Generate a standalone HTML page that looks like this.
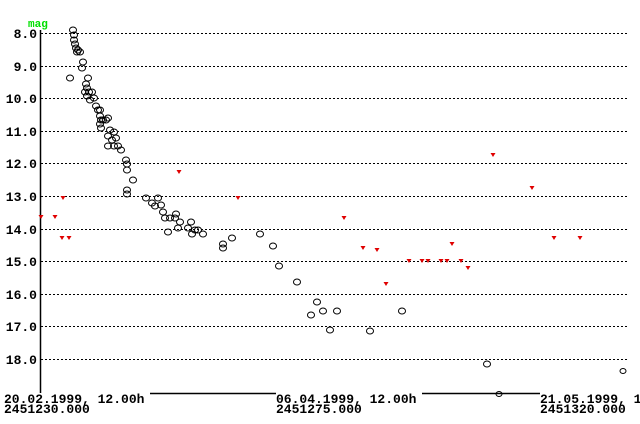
<!DOCTYPE html>
<html><head><style>
body{margin:0;background:#fff;}
svg{display:block;}
text{font-family:"Liberation Mono",monospace;font-weight:bold;font-size:13px;fill:#000;}
</style></head><body>
<svg width="640" height="424" viewBox="0 0 640 424" xmlns="http://www.w3.org/2000/svg">
<g stroke="#000" stroke-width="1" stroke-dasharray="2,2">
<line x1="41" y1="33.5" x2="628" y2="33.5"/>
<line x1="41" y1="66.5" x2="628" y2="66.5"/>
<line x1="41" y1="98.5" x2="628" y2="98.5"/>
<line x1="41" y1="131.5" x2="628" y2="131.5"/>
<line x1="41" y1="163.5" x2="628" y2="163.5"/>
<line x1="41" y1="196.5" x2="628" y2="196.5"/>
<line x1="41" y1="229.5" x2="628" y2="229.5"/>
<line x1="41" y1="261.5" x2="628" y2="261.5"/>
<line x1="41" y1="294.5" x2="628" y2="294.5"/>
<line x1="41" y1="326.5" x2="628" y2="326.5"/>
<line x1="41" y1="359.5" x2="628" y2="359.5"/>
</g>
<line x1="40.5" y1="30" x2="40.5" y2="393" stroke="#000" stroke-width="1.5"/>
<line x1="150" y1="393.5" x2="276" y2="393.5" stroke="#000" stroke-width="1.5"/>
<line x1="422" y1="393.5" x2="540" y2="393.5" stroke="#000" stroke-width="1.5"/>
<text x="28" y="27" style="fill:#00e000;font-size:11px">mag</text>
<g text-anchor="end">
<text x="37" y="38">8.0</text><text x="37" y="71">9.0</text><text x="37" y="103">10.0</text>
<text x="37" y="136">11.0</text><text x="37" y="168">12.0</text><text x="37" y="201">13.0</text>
<text x="37" y="234">14.0</text><text x="37" y="266">15.0</text><text x="37" y="299">16.0</text>
<text x="37" y="331">17.0</text><text x="37" y="364">18.0</text>
</g>
<text x="4" y="403">20.02.1999, 12.00h</text><text x="4" y="413">2451230.000</text>
<text x="276" y="403">06.04.1999, 12.00h</text><text x="276" y="413">2451275.000</text>
<text x="540" y="403">21.05.1999, 12.00h</text><text x="540" y="413">2451320.000</text>
<g fill="none" stroke="#000" stroke-width="1">
<ellipse cx="73" cy="30" rx="3.5" ry="3"/><ellipse cx="74" cy="35" rx="3.5" ry="3"/><ellipse cx="74" cy="40" rx="3.5" ry="3"/><ellipse cx="75" cy="44" rx="3.5" ry="3"/><ellipse cx="76" cy="48" rx="3.5" ry="3"/><ellipse cx="77" cy="52" rx="3.5" ry="3"/><ellipse cx="78" cy="50" rx="3.5" ry="3"/><ellipse cx="80" cy="52" rx="3.5" ry="3"/><ellipse cx="83" cy="62" rx="3.5" ry="3"/><ellipse cx="82" cy="68" rx="3.5" ry="3"/><ellipse cx="70" cy="78" rx="3.5" ry="3"/><ellipse cx="88" cy="78" rx="3.5" ry="3"/><ellipse cx="86" cy="84" rx="3.5" ry="3"/><ellipse cx="87" cy="88" rx="3.5" ry="3"/><ellipse cx="89" cy="92" rx="3.5" ry="3"/><ellipse cx="85" cy="92" rx="3.5" ry="3"/><ellipse cx="87" cy="96" rx="3.5" ry="3"/><ellipse cx="92" cy="92" rx="3.5" ry="3"/><ellipse cx="90" cy="100" rx="3.5" ry="3"/><ellipse cx="94" cy="98" rx="3.5" ry="3"/><ellipse cx="96" cy="106" rx="3.5" ry="3"/><ellipse cx="98" cy="110" rx="3.5" ry="3"/><ellipse cx="100" cy="110" rx="3.5" ry="3"/><ellipse cx="100" cy="116" rx="3.5" ry="3"/><ellipse cx="101" cy="120" rx="3.5" ry="3"/><ellipse cx="100" cy="124" rx="3.5" ry="3"/><ellipse cx="101" cy="128" rx="3.5" ry="3"/><ellipse cx="103" cy="120" rx="3.5" ry="3"/><ellipse cx="106" cy="120" rx="3.5" ry="3"/><ellipse cx="108" cy="118" rx="3.5" ry="3"/><ellipse cx="110" cy="130" rx="3.5" ry="3"/><ellipse cx="108" cy="136" rx="3.5" ry="3"/><ellipse cx="108" cy="146" rx="3.5" ry="3"/><ellipse cx="112" cy="140" rx="3.5" ry="3"/><ellipse cx="114" cy="132" rx="3.5" ry="3"/><ellipse cx="114" cy="146" rx="3.5" ry="3"/><ellipse cx="116" cy="138" rx="3.5" ry="3"/><ellipse cx="118" cy="146" rx="3.5" ry="3"/><ellipse cx="121" cy="150" rx="3.5" ry="3"/><ellipse cx="126" cy="160" rx="3.5" ry="3"/><ellipse cx="127" cy="164" rx="3.5" ry="3"/><ellipse cx="127" cy="170" rx="3.5" ry="3"/><ellipse cx="127" cy="190" rx="3.5" ry="3"/><ellipse cx="127" cy="194" rx="3.5" ry="3"/><ellipse cx="133" cy="180" rx="3.5" ry="3"/><ellipse cx="146" cy="198" rx="3.5" ry="3"/><ellipse cx="152" cy="203" rx="3.5" ry="3"/><ellipse cx="155" cy="206" rx="3.5" ry="3"/><ellipse cx="158" cy="198" rx="3.5" ry="3"/><ellipse cx="161" cy="205" rx="3.5" ry="3"/><ellipse cx="163" cy="212" rx="3.5" ry="3"/><ellipse cx="165" cy="218" rx="3.5" ry="3"/><ellipse cx="168" cy="232" rx="3.5" ry="3"/><ellipse cx="170" cy="218" rx="3.5" ry="3"/><ellipse cx="175" cy="218" rx="3.5" ry="3"/><ellipse cx="176" cy="214" rx="3.5" ry="3"/><ellipse cx="178" cy="228" rx="3.5" ry="3"/><ellipse cx="180" cy="222" rx="3.5" ry="3"/><ellipse cx="188" cy="228" rx="3.5" ry="3"/><ellipse cx="191" cy="222" rx="3.5" ry="3"/><ellipse cx="192" cy="234" rx="3.5" ry="3"/><ellipse cx="195" cy="230" rx="3.5" ry="3"/><ellipse cx="198" cy="230" rx="3.5" ry="3"/><ellipse cx="203" cy="234" rx="3.5" ry="3"/><ellipse cx="223" cy="244" rx="3.5" ry="3"/><ellipse cx="223" cy="248" rx="3.5" ry="3"/><ellipse cx="232" cy="238" rx="3.5" ry="3"/><ellipse cx="260" cy="234" rx="3.5" ry="3"/><ellipse cx="273" cy="246" rx="3.5" ry="3"/><ellipse cx="279" cy="266" rx="3.5" ry="3"/><ellipse cx="297" cy="282" rx="3.5" ry="3"/><ellipse cx="311" cy="315" rx="3.5" ry="3"/><ellipse cx="317" cy="302" rx="3.5" ry="3"/><ellipse cx="323" cy="311" rx="3.5" ry="3"/><ellipse cx="330" cy="330" rx="3.5" ry="3"/><ellipse cx="337" cy="311" rx="3.5" ry="3"/><ellipse cx="370" cy="331" rx="3.5" ry="3"/><ellipse cx="402" cy="311" rx="3.5" ry="3"/><ellipse cx="487" cy="364" rx="3.5" ry="3"/><ellipse cx="499" cy="394" rx="3" ry="2.5"/><ellipse cx="623" cy="371" rx="3" ry="2.5"/>
</g>
<g fill="#e00000">
<path d="M38.5 215h5l-2.5 4z"/><path d="M52.5 215h5l-2.5 4z"/><path d="M60.5 196h5l-2.5 4z"/><path d="M59.5 236h5l-2.5 4z"/><path d="M66.5 236h5l-2.5 4z"/><path d="M176.5 170h5l-2.5 4z"/><path d="M235.5 196h5l-2.5 4z"/><path d="M341.5 216h5l-2.5 4z"/><path d="M360.5 246h5l-2.5 4z"/><path d="M374.5 248h5l-2.5 4z"/><path d="M383.5 282h5l-2.5 4z"/><path d="M406.5 259h5l-2.5 4z"/><path d="M419.5 259h5l-2.5 4z"/><path d="M425.5 259h5l-2.5 4z"/><path d="M438.5 259h5l-2.5 4z"/><path d="M444.5 259h5l-2.5 4z"/><path d="M449.5 242h5l-2.5 4z"/><path d="M458.5 259h5l-2.5 4z"/><path d="M465.5 266h5l-2.5 4z"/><path d="M490.5 153h5l-2.5 4z"/><path d="M529.5 186h5l-2.5 4z"/><path d="M551.5 236h5l-2.5 4z"/><path d="M577.5 236h5l-2.5 4z"/>
</g>
</svg>
</body></html>
